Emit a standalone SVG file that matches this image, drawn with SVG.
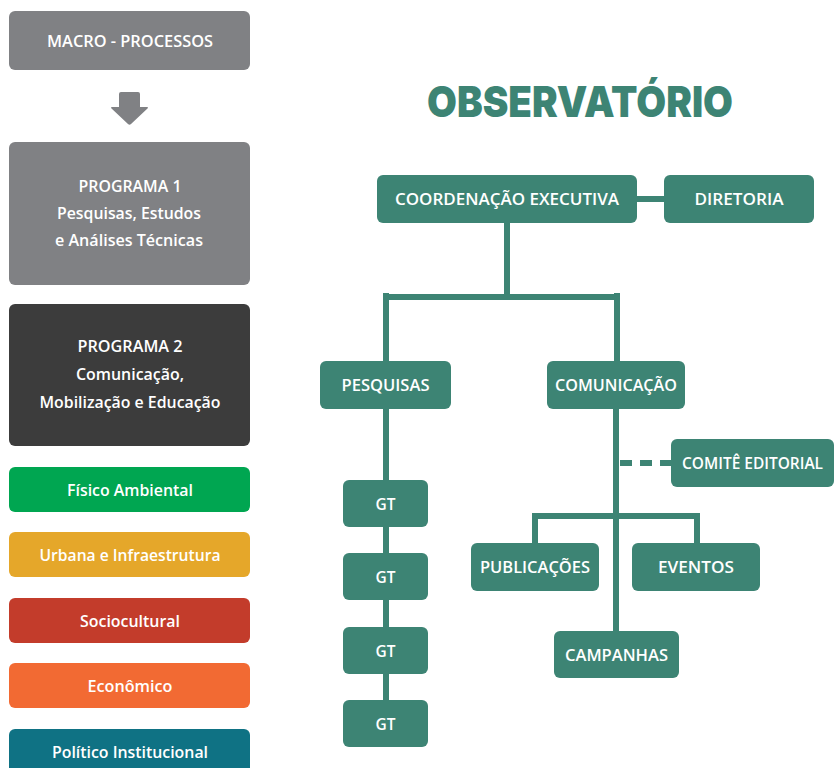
<svg xmlns="http://www.w3.org/2000/svg" width="835" height="768" viewBox="0 0 835 768">
<style>
.t{font-family:"Open Sans","Noto Sans","Liberation Sans",sans-serif;font-weight:600;font-size:16px;fill:#ffffff;text-anchor:middle}
.g{fill:#3d8474}
.ln{stroke:#3d8474;stroke-width:6;fill:none}
.title{font-family:Inter,Lato,"Liberation Sans",sans-serif;font-weight:900;font-size:43px;fill:#3d8474;text-anchor:middle}
</style>
<rect width="835" height="768" fill="#ffffff"/>
<!-- left column -->
<g id="macro">
<rect x="9" y="11" width="241" height="59" rx="6" fill="#808184"/>
<text class="t" x="130" y="47" textLength="166" lengthAdjust="spacingAndGlyphs">MACRO - PROCESSOS</text>
</g>
<g id="arrow">
<path d="M121,92 Q119,92 119,94 L119,107 L112,107 Q110,107 111.5,108.5 L128,124 Q129.5,125.5 131,124 L147.5,108.5 Q149,107 147,107 L140,107 L140,94 Q140,92 138,92 Z" fill="#808184"/>
</g>
<g id="programa1">
<rect x="9" y="142" width="241" height="143" rx="6" fill="#808184"/>
<text class="t" x="130" y="192" textLength="103" lengthAdjust="spacingAndGlyphs">PROGRAMA 1</text>
<text class="t" x="129" y="219" textLength="144" lengthAdjust="spacingAndGlyphs">Pesquisas, Estudos</text>
<text class="t" x="129" y="246" textLength="148" lengthAdjust="spacingAndGlyphs">e Análises Técnicas</text>
</g>
<g id="programa2">
<rect x="9" y="304" width="241" height="142" rx="6" fill="#3c3c3c"/>
<text class="t" x="130" y="352" textLength="105" lengthAdjust="spacingAndGlyphs">PROGRAMA 2</text>
<text class="t" x="130" y="380" textLength="108" lengthAdjust="spacingAndGlyphs">Comunicação,</text>
<text class="t" x="130" y="408" textLength="181" lengthAdjust="spacingAndGlyphs">Mobilização e Educação</text>
</g>
<g id="fisico">
<rect x="9" y="467" width="241" height="45" rx="6" fill="#00a651"/>
<text class="t" x="130" y="496" textLength="126" lengthAdjust="spacingAndGlyphs">Físico Ambiental</text>
</g>
<g id="urbana">
<rect x="9" y="532" width="241" height="45" rx="6" fill="#e5a72a"/>
<text class="t" x="130" y="561" textLength="181" lengthAdjust="spacingAndGlyphs">Urbana e Infraestrutura</text>
</g>
<g id="sociocultural">
<rect x="9" y="598" width="241" height="45" rx="6" fill="#c33c2b"/>
<text class="t" x="130" y="627" textLength="100" lengthAdjust="spacingAndGlyphs">Sociocultural</text>
</g>
<g id="economico">
<rect x="9" y="663" width="241" height="45" rx="6" fill="#f26a33"/>
<text class="t" x="130" y="692" textLength="85" lengthAdjust="spacingAndGlyphs">Econômico</text>
</g>
<g id="politico">
<rect x="9" y="729" width="241" height="50" rx="6" fill="#0f7284"/>
<text class="t" x="130" y="758" textLength="156" lengthAdjust="spacingAndGlyphs">Político Institucional</text>
</g>
<!-- title -->
<text class="title" x="580" y="117" textLength="306" lengthAdjust="spacingAndGlyphs">OBSERVATÓRIO</text>
<!-- connectors -->
<g id="connectors">
<line class="ln" x1="637" y1="199" x2="664" y2="199" stroke-width="7"/>
<line class="ln" x1="507" y1="223" x2="507" y2="297"/>
<line class="ln" x1="383" y1="297" x2="620" y2="297"/>
<line class="ln" x1="386" y1="293" x2="386" y2="361"/>
<line class="ln" x1="617" y1="293" x2="617" y2="361"/>
<line class="ln" x1="386" y1="409" x2="386" y2="700"/>
<line class="ln" x1="616" y1="409" x2="616" y2="631"/>
<line class="ln" x1="620" y1="463" x2="671" y2="463" stroke-dasharray="12,8"/>
<line class="ln" x1="532" y1="516" x2="700" y2="516"/>
<line class="ln" x1="535" y1="513" x2="535" y2="543"/>
<line class="ln" x1="697" y1="513" x2="697" y2="543"/>
</g>
<!-- right nodes -->
<g id="coordenacao">
<rect class="g" x="377" y="175" width="260" height="48" rx="6"/>
<text class="t" x="507" y="205" textLength="224" lengthAdjust="spacingAndGlyphs">COORDENAÇÃO EXECUTIVA</text>
</g>
<g id="diretoria">
<rect class="g" x="664" y="175" width="150" height="48" rx="6"/>
<text class="t" x="739" y="205" textLength="89" lengthAdjust="spacingAndGlyphs">DIRETORIA</text>
</g>
<g id="pesquisas">
<rect class="g" x="320" y="361" width="131" height="48" rx="6"/>
<text class="t" x="385.5" y="391" textLength="88" lengthAdjust="spacingAndGlyphs">PESQUISAS</text>
</g>
<g id="comunicacao">
<rect class="g" x="547" y="361" width="138" height="48" rx="6"/>
<text class="t" x="616" y="391" textLength="122" lengthAdjust="spacingAndGlyphs">COMUNICAÇÃO</text>
</g>
<g id="comite">
<rect class="g" x="671" y="439" width="163" height="48" rx="6"/>
<text class="t" x="752.5" y="469" textLength="141" lengthAdjust="spacingAndGlyphs">COMITÊ EDITORIAL</text>
</g>
<g id="gt1">
<rect class="g" x="343" y="480" width="85" height="47" rx="6"/>
<text class="t" x="385.5" y="509.5" textLength="20" lengthAdjust="spacingAndGlyphs">GT</text>
</g>
<g id="gt2">
<rect class="g" x="343" y="553" width="85" height="47" rx="6"/>
<text class="t" x="385.5" y="582.5" textLength="20" lengthAdjust="spacingAndGlyphs">GT</text>
</g>
<g id="gt3">
<rect class="g" x="343" y="627" width="85" height="47" rx="6"/>
<text class="t" x="385.5" y="656.5" textLength="20" lengthAdjust="spacingAndGlyphs">GT</text>
</g>
<g id="gt4">
<rect class="g" x="343" y="700" width="85" height="47" rx="6"/>
<text class="t" x="385.5" y="729.5" textLength="20" lengthAdjust="spacingAndGlyphs">GT</text>
</g>
<g id="publicacoes">
<rect class="g" x="471" y="543" width="128" height="48" rx="6"/>
<text class="t" x="535" y="573" textLength="110" lengthAdjust="spacingAndGlyphs">PUBLICAÇÕES</text>
</g>
<g id="eventos">
<rect class="g" x="632" y="543" width="128" height="48" rx="6"/>
<text class="t" x="696" y="573" textLength="76" lengthAdjust="spacingAndGlyphs">EVENTOS</text>
</g>
<g id="campanhas">
<rect class="g" x="554" y="631" width="125" height="47" rx="6"/>
<text class="t" x="616.5" y="660.5" textLength="103" lengthAdjust="spacingAndGlyphs">CAMPANHAS</text>
</g>
</svg>
